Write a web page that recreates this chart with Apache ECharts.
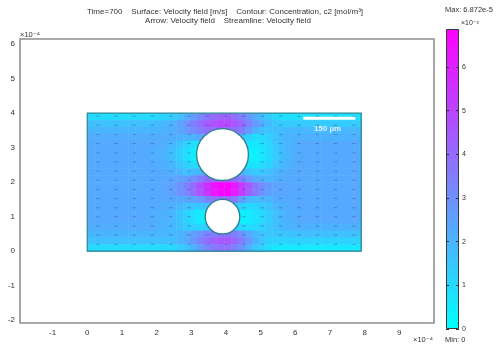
<!DOCTYPE html>
<html>
<head>
<meta charset="utf-8">
<script src="https://cdn.jsdelivr.net/npm/echarts@6/dist/echarts.min.js"></script>
<style>
  html, body { margin: 0; padding: 0; background: #ffffff; }
  #chart { width: 498px; height: 350px; }
</style>
</head>
<body>
<div id="chart"></div>
<script>
// Axis tick values (x and y in units of 1e-4 m, colour scale in units of 1e-3 m/s)
const xTickValues = [-1, 0, 1, 2, 3, 4, 5, 6, 7, 8, 9];
const yTickValues = [-2, -1, 0, 1, 2, 3, 4, 5, 6];
const colorTickValues = [0, 1, 2, 3, 4, 5, 6];

// Colour range of the velocity magnitude (x1e-3 m/s)
const speedMin = 0;
const speedMax = 6.872;

// Channel and obstacles (x1e-4 m)
const domainWidth = 7.9;
const domainHeight = 4.0;
const obstacleX = [3.9, 3.9];
const obstacleY = [2.8, 1.0];
const obstacleR = [0.75, 0.5];

// Arrow grid of the velocity field
const arrowX = [0.30, 0.83, 1.36, 1.88, 2.41, 2.94, 3.47, 4.00, 4.52, 5.05, 5.58, 6.11, 6.64, 7.16, 7.69];
const arrowY = [0.20, 0.47, 0.73, 1.00, 1.26, 1.53, 1.79, 2.06, 2.32, 2.59, 2.85, 3.12, 3.38, 3.65, 3.91];

// 150 um scale bar
const scaleBarX = [6.23, 7.73];
const scaleBarY = 3.85;
const scaleBarText = '150 µm';
const scaleTextPos = [6.93, 3.56];

// Velocity magnitude (x1e-3 m/s) sampled on a 40 x 20 grid, top row first
const speedRows = [
  [1.0,1.0,1.0,1.0,1.0,1.0,1.0,1.0,1.0,1.0,1.1, 1.2,1.4,1.7,2.2,2.7,3.2,3.7,4.0,4.2,4.2,3.9,3.5,2.9,2.3,1.8,1.4,1.1,0.9,0.8, 0.8,0.8,0.8,0.8,0.8,0.8,0.8,0.8,0.8,0.8],
  [1.7,1.7,1.7,1.7,1.7,1.7,1.7,1.7,1.7,1.7,1.8, 1.9,2.1,2.4,2.9,3.4,3.9,4.4,4.7,4.9,4.9,4.6,4.1,3.4,2.8,2.2,1.8,1.5,1.4,1.4, 1.4,1.4,1.4,1.4,1.4,1.4,1.4,1.4,1.4,1.4],
  [2.0,2.0,2.0,2.0,2.0,2.0,2.0,2.0,2.0,2.0,2.0, 2.1,2.2,2.4,2.7,3.1,3.5,3.9,4.1,4.2,4.2,3.9,3.5,2.8,2.1,1.7,1.6,1.7,1.8,1.9, 1.9,1.9,1.9,1.9,1.9,1.9,1.9,1.9,1.9,1.9],
  [2.2,2.2,2.2,2.2,2.2,2.2,2.2,2.2,2.2,2.2,2.2, 2.2,2.2,2.1,2.0,2.1,2.3,2.8,2.0,2.0,2.0,2.0,1.9,1.2,0.9,1.0,1.3,1.6,1.9,2.0, 2.1,2.1,2.1,2.1,2.1,2.1,2.1,2.1,2.1,2.1],
  [2.3,2.3,2.3,2.3,2.3,2.3,2.3,2.3,2.3,2.3,2.2, 2.1,1.9,1.6,1.2,0.9,0.8,0.5,0.5,0.5,0.5,0.5,0.5,0.7,0.6,0.8,1.1,1.5,1.8,2.0, 2.2,2.3,2.3,2.3,2.3,2.3,2.3,2.3,2.3,2.3],
  [2.3,2.3,2.3,2.3,2.3,2.3,2.3,2.3,2.3,2.2,2.1, 2.0,1.7,1.3,0.9,0.5,0.4,0.4,0.4,0.4,0.4,0.4,0.4,0.4,0.4,0.6,1.0,1.4,1.8,2.0, 2.2,2.3,2.3,2.3,2.3,2.3,2.3,2.3,2.3,2.3],
  [2.3,2.3,2.3,2.3,2.3,2.3,2.3,2.3,2.3,2.2,2.1, 2.0,1.7,1.3,0.9,0.5,0.4,0.4,0.4,0.4,0.4,0.4,0.4,0.4,0.4,0.6,1.0,1.4,1.8,2.0, 2.2,2.3,2.3,2.3,2.3,2.3,2.3,2.3,2.3,2.3],
  [2.3,2.3,2.3,2.3,2.3,2.3,2.3,2.3,2.3,2.3,2.2, 2.1,1.9,1.6,1.3,1.0,1.0,1.0,1.0,1.0,1.0,1.0,1.0,0.8,0.7,0.9,1.2,1.6,1.9,2.1, 2.2,2.3,2.3,2.3,2.3,2.3,2.3,2.3,2.3,2.3],
  [2.3,2.3,2.3,2.3,2.3,2.3,2.3,2.3,2.3,2.3,2.3, 2.2,2.1,2.0,1.7,1.8,2.0,2.4,2.4,2.4,2.4,2.4,2.2,1.7,1.4,1.5,1.7,1.9,2.1,2.2, 2.3,2.3,2.3,2.3,2.3,2.3,2.3,2.3,2.3,2.3],
  [2.3,2.3,2.3,2.3,2.3,2.3,2.3,2.3,2.3,2.3,2.3, 2.3,2.4,2.5,2.7,3.0,3.5,4.0,4.4,4.6,4.6,4.2,3.4,2.8,2.3,2.1,2.0,2.1,2.2,2.3, 2.3,2.3,2.3,2.3,2.3,2.3,2.3,2.3,2.3,2.3],
  [2.3,2.3,2.3,2.3,2.3,2.3,2.3,2.3,2.3,2.3,2.3, 2.4,2.6,2.9,3.4,4.0,4.8,5.6,6.3,6.8,6.8,6.2,5.4,4.5,3.7,3.1,2.7,2.5,2.4,2.4, 2.3,2.3,2.3,2.3,2.3,2.3,2.3,2.3,2.3,2.3],
  [2.3,2.3,2.3,2.3,2.3,2.3,2.3,2.3,2.3,2.3,2.3, 2.4,2.6,2.9,3.3,3.9,4.6,5.4,6.2,6.7,6.7,6.1,5.3,4.4,3.6,3.0,2.6,2.4,2.4,2.4, 2.3,2.3,2.3,2.3,2.3,2.3,2.3,2.3,2.3,2.3],
  [2.3,2.3,2.3,2.3,2.3,2.3,2.3,2.3,2.3,2.3,2.3, 2.3,2.3,2.3,2.4,2.5,2.8,3.2,3.8,4.1,4.1,3.6,2.6,2.0,1.8,1.9,2.0,2.2,2.3,2.3, 2.3,2.3,2.3,2.3,2.3,2.3,2.3,2.3,2.3,2.3],
  [2.3,2.3,2.3,2.3,2.3,2.3,2.3,2.3,2.3,2.3,2.2, 2.2,2.1,1.9,1.7,1.5,1.5,1.7,1.5,1.5,1.5,1.5,1.2,1.0,1.1,1.4,1.7,1.9,2.1,2.2, 2.3,2.3,2.3,2.3,2.3,2.3,2.3,2.3,2.3,2.3],
  [2.3,2.3,2.3,2.3,2.3,2.3,2.3,2.3,2.3,2.2,2.1, 2.1,1.9,1.6,1.2,0.8,0.5,0.4,0.4,0.4,0.4,0.4,0.4,0.5,0.7,1.0,1.4,1.7,2.0,2.1, 2.2,2.3,2.3,2.3,2.3,2.3,2.3,2.3,2.3,2.3],
  [2.3,2.3,2.3,2.3,2.3,2.3,2.3,2.3,2.3,2.2,2.1, 2.1,1.9,1.6,1.2,0.8,0.5,0.4,0.4,0.4,0.4,0.4,0.4,0.5,0.7,1.0,1.4,1.7,2.0,2.1, 2.2,2.3,2.3,2.3,2.3,2.3,2.3,2.3,2.3,2.3],
  [2.2,2.2,2.2,2.2,2.2,2.2,2.2,2.2,2.2,2.2,2.1, 2.0,1.9,1.7,1.4,1.2,1.1,1.3,1.2,1.2,1.2,1.2,1.1,0.9,1.0,1.2,1.5,1.7,1.9,2.0, 2.1,2.1,2.1,2.1,2.1,2.1,2.1,2.1,2.1,2.1],
  [2.0,2.0,2.0,2.0,2.0,2.0,2.0,2.0,2.0,2.0,2.0, 1.9,1.9,2.0,2.2,2.5,2.9,3.3,3.6,3.8,3.8,3.5,3.0,2.4,1.9,1.6,1.5,1.5,1.6,1.6, 1.7,1.7,1.7,1.7,1.7,1.7,1.7,1.7,1.7,1.7],
  [1.7,1.7,1.7,1.7,1.7,1.7,1.7,1.7,1.7,1.7,1.7, 1.7,1.8,2.0,2.3,2.8,3.4,3.9,4.3,4.5,4.5,4.1,3.5,2.8,2.1,1.6,1.3,1.2,1.2,1.2, 1.2,1.2,1.2,1.2,1.2,1.2,1.2,1.2,1.2,1.2],
  [1.0,1.0,1.0,1.0,1.0,1.0,1.0,1.0,1.0,1.0,1.0, 1.0,1.1,1.3,1.6,2.1,2.7,3.2,3.6,3.8,3.8,3.4,2.9,2.2,1.6,1.2,0.9,0.7,0.6,0.6, 0.6,0.6,0.6,0.6,0.6,0.6,0.6,0.6,0.6,0.6]
];

// ---- derived series data ----
const nRows = speedRows.length;
const nCols = speedRows[0].length;
const cellW = domainWidth / nCols;
const cellH = domainHeight / nRows;
const fieldCells = [];
speedRows.forEach((row, i) => {
  row.forEach((v, j) => {
    const x0 = j * cellW;
    const yTop = domainHeight - i * cellH;
    fieldCells.push([x0, yTop - cellH, x0 + cellW, yTop, v]);
  });
});

function insideObstacle(x, y, pad) {
  for (let k = 0; k < obstacleX.length; k++) {
    const dx = x - obstacleX[k], dy = y - obstacleY[k];
    if (Math.sqrt(dx * dx + dy * dy) < obstacleR[k] + pad) return true;
  }
  return false;
}
const arrowPoints = [];
arrowY.forEach(y => arrowX.forEach(x => {
  if (!insideObstacle(x, y, 0.06)) arrowPoints.push([x, y]);
}));
const obstacles = obstacleX.map((x, k) => [x, obstacleY[k], obstacleR[k]]);

const FONT = 'Liberation Sans, DejaVu Sans, sans-serif';
const TEXT_COLOR = '#333333';
const WALL_COLOR = '#2c8491';

const chart = echarts.init(document.getElementById('chart'), null, { renderer: 'canvas' });

chart.setOption({
  animation: false,
  backgroundColor: '#ffffff',
  grid: [
    { left: 20, top: 39, width: 414, height: 284, show: true, borderColor: '#8f8f8f', borderWidth: 1.6, backgroundColor: 'transparent' },
    { left: 446, top: 29, width: 13, height: 300, show: false }
  ],
  xAxis: [
    {
      type: 'value', gridIndex: 0, min: -1.94, max: 10.0,
      axisLine: { show: false }, axisTick: { show: false }, splitLine: { show: false },
      axisLabel: { customValues: xTickValues, fontSize: 8, color: TEXT_COLOR, fontFamily: FONT, margin: 6 }
    },
    { type: 'category', gridIndex: 1, data: [''], show: false }
  ],
  yAxis: [
    {
      type: 'value', gridIndex: 0, min: -2.08, max: 6.15,
      axisLine: { show: false }, axisTick: { show: false }, splitLine: { show: false },
      axisLabel: { customValues: yTickValues, fontSize: 8, color: TEXT_COLOR, fontFamily: FONT, margin: 5 }
    },
    {
      type: 'value', gridIndex: 1, min: speedMin, max: speedMax, position: 'right', z: 10,
      axisLine: { show: false }, splitLine: { show: false },
      axisTick: { show: true, inside: true, length: 3, customValues: colorTickValues, lineStyle: { color: '#333' } },
      axisLabel: { customValues: colorTickValues, fontSize: 7, color: TEXT_COLOR, fontFamily: FONT, margin: 3 }
    },
    {
      type: 'value', gridIndex: 1, min: speedMin, max: speedMax, position: 'left', z: 10,
      axisLine: { show: false }, splitLine: { show: false },
      axisTick: { show: true, inside: true, length: 3, customValues: colorTickValues, lineStyle: { color: '#333' } },
      axisLabel: { show: false }
    }
  ],
  visualMap: {
    show: false, type: 'continuous', seriesIndex: 0, dimension: 4,
    min: speedMin, max: speedMax,
    inRange: { color: ['#00ffff', '#ff00ff'] }
  },
  series: [
    {
      name: 'Velocity field',
      type: 'custom', xAxisIndex: 0, yAxisIndex: 0,
      data: fieldCells, silent: true, z: 1,
      encode: { x: [0, 2], y: [1, 3] },
      renderItem: function (params, api) {
        const p0 = api.coord([api.value(0), api.value(1)]);
        const p1 = api.coord([api.value(2), api.value(3)]);
        return {
          type: 'rect',
          shape: {
            x: Math.min(p0[0], p1[0]), y: Math.min(p0[1], p1[1]),
            width: Math.abs(p1[0] - p0[0]) + 0.5, height: Math.abs(p1[1] - p0[1]) + 0.5
          },
          style: { fill: api.visual('color') }
        };
      }
    },
    {
      name: 'Channel wall',
      type: 'custom', xAxisIndex: 0, yAxisIndex: 0, silent: true, z: 3,
      data: [[0, 0, domainWidth, domainHeight]],
      renderItem: function (params, api) {
        const p0 = api.coord([api.value(0), api.value(1)]);
        const p1 = api.coord([api.value(2), api.value(3)]);
        return {
          type: 'rect',
          shape: { x: p0[0], y: p1[1], width: p1[0] - p0[0], height: p0[1] - p1[1] },
          style: { fill: 'none', stroke: WALL_COLOR, lineWidth: 1.2 }
        };
      }
    },
    {
      name: 'Obstacles',
      type: 'custom', xAxisIndex: 0, yAxisIndex: 0, silent: true, z: 4,
      data: obstacles,
      renderItem: function (params, api) {
        const c = api.coord([api.value(0), api.value(1)]);
        const s = api.size([api.value(2), api.value(2)]);
        return {
          type: 'circle',
          shape: { cx: c[0], cy: c[1], r: (s[0] + s[1]) / 2 },
          style: { fill: '#ffffff', stroke: WALL_COLOR, lineWidth: 1.4 }
        };
      }
    },
    {
      name: 'Arrow: Velocity field',
      type: 'scatter', xAxisIndex: 0, yAxisIndex: 0, silent: true, z: 5,
      data: arrowPoints,
      symbol: 'path://M0,1.4L6,1.4L6,0L10,2.5L6,5L6,3.6L0,3.6Z',
      symbolSize: [4, 2],
      itemStyle: { color: 'rgba(60,60,90,0.42)' }
    },
    {
      name: 'Scale bar',
      type: 'line', xAxisIndex: 0, yAxisIndex: 0, silent: true, z: 6,
      data: scaleBarX.map(x => [x, scaleBarY]),
      symbol: 'none',
      lineStyle: { color: '#ffffff', width: 3 }
    },
    {
      name: 'Scale label',
      type: 'scatter', xAxisIndex: 0, yAxisIndex: 0, silent: true, z: 6,
      data: [scaleTextPos], symbolSize: 0,
      label: {
        show: true, position: 'inside', formatter: scaleBarText,
        color: '#ffffff', fontSize: 8, fontWeight: 'bold', fontFamily: FONT
      }
    },
    {
      name: 'Colour bar',
      type: 'bar', xAxisIndex: 1, yAxisIndex: 1, silent: true, z: 2,
      data: [speedMax], barWidth: '100%',
      itemStyle: {
        borderColor: '#3a3a3a', borderWidth: 1,
        color: {
          type: 'linear', x: 0, y: 0, x2: 0, y2: 1,
          colorStops: [{ offset: 0, color: '#ff00ff' }, { offset: 1, color: '#00ffff' }]
        }
      }
    }
  ],
  graphic: [
    { type: 'text', x: 225, y: 12, style: { text: 'Time=700    Surface: Velocity field [m/s]    Contour: Concentration, c2 [mol/m³]', align: 'center', verticalAlign: 'middle', font: '8px ' + FONT, fill: TEXT_COLOR } },
    { type: 'text', x: 228, y: 21, style: { text: 'Arrow: Velocity field    Streamline: Velocity field', align: 'center', verticalAlign: 'middle', font: '8px ' + FONT, fill: TEXT_COLOR } },
    { type: 'text', x: 445, y: 10, style: { text: 'Max: 6.872e-5', align: 'left', verticalAlign: 'middle', font: '7.5px ' + FONT, fill: TEXT_COLOR } },
    { type: 'text', x: 461, y: 23, style: { text: '×10⁻³', align: 'left', verticalAlign: 'middle', font: '7px ' + FONT, fill: TEXT_COLOR } },
    { type: 'text', x: 445, y: 340, style: { text: 'Min: 0', align: 'left', verticalAlign: 'middle', font: '7.5px ' + FONT, fill: TEXT_COLOR } },
    { type: 'text', x: 413, y: 340, style: { text: '×10⁻⁴', align: 'left', verticalAlign: 'middle', font: '7.5px ' + FONT, fill: TEXT_COLOR } },
    { type: 'text', x: 20, y: 35, style: { text: '×10⁻⁴', align: 'left', verticalAlign: 'middle', font: '7.5px ' + FONT, fill: TEXT_COLOR } }
  ]
});
</script>
</body>
</html>
